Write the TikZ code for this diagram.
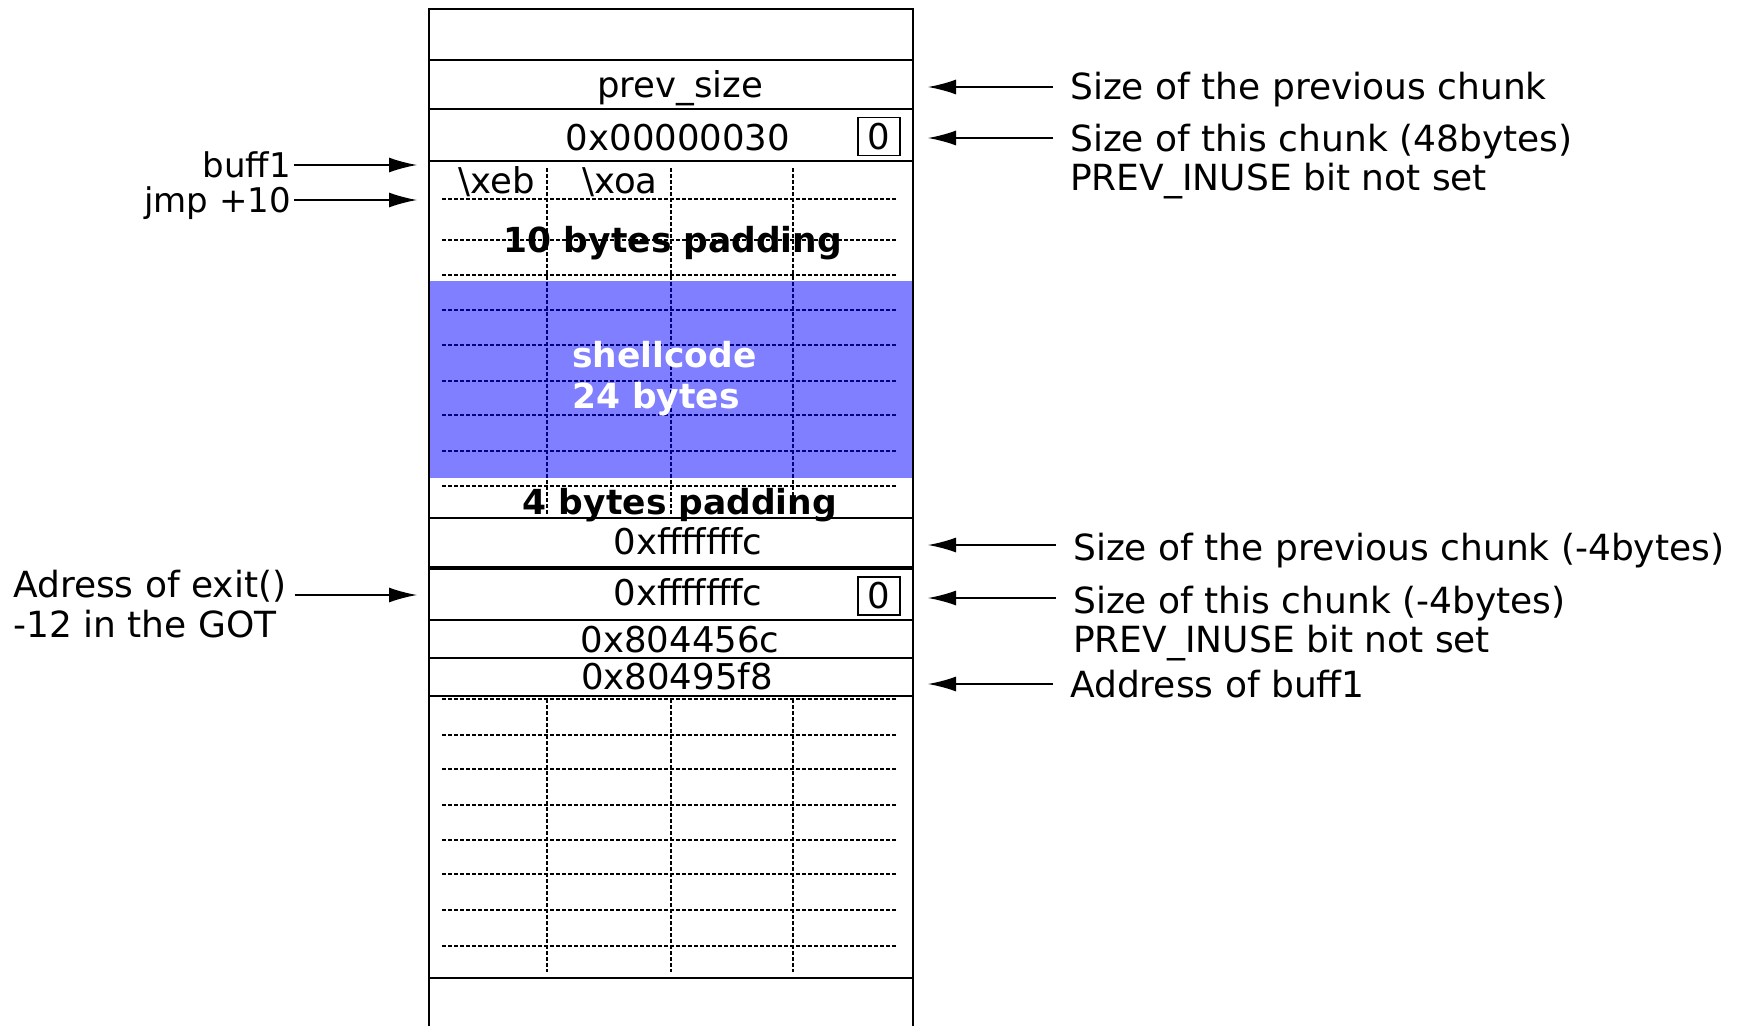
\documentclass[tikz,border=0pt]{standalone}
\usepackage{fontspec}
\setmainfont{DejaVu Sans}
\usetikzlibrary{arrows.meta}

\begin{document}
\begin{tikzpicture}[x=1pt,y=-1pt,
  rowline/.style={line width=2.4pt},
  border/.style={line width=2pt},
  gridline/.style={line width=1.1pt, dash pattern=on 4pt off 2pt},
  ptr/.style={line width=1.6pt, -{Latex[length=28pt,width=15pt]}},
  cell/.style={font=\fontsize{35.5}{42}\selectfont, inner sep=0pt, anchor=base},
  boldcell/.style={font=\fontsize{34.5}{42}\selectfont\bfseries, inner sep=0pt, anchor=base},
  note/.style={font=\fontsize{36}{42}\selectfont, inner sep=0pt, anchor=base west},
  label/.style={font=\fontsize{34}{42}\selectfont, inner sep=0pt},
  bitbox/.style={draw, line width=1.5pt, minimum width=42pt, minimum height=38pt,
                 inner sep=0pt, font=\fontsize{35.5}{42}\selectfont},
]
% canvas
\fill[white] (0,0) rectangle (1741,1026);
\useasboundingbox (0,0) rectangle (1741,1026);

% dashed byte grid of the user data area
\foreach \y in {199,240,275,310,345,381,415,451,486,699,735,769,805,840,874,910,946}
  \draw[gridline] (442,\y) -- (897,\y);
\foreach \x in {547,671,793} {
  \draw[gridline] (\x,168) -- (\x,515);
  \draw[gridline] (\x,699) -- (\x,972);
}

% shellcode area
\fill[blue, fill opacity=0.5] (429,281) rectangle (913,478);

% chunk outline and header fields
\draw[border] (429,1026) -- (429,9) -- (913,9) -- (913,1026);
\foreach \y in {60,109,161,518,620,658,696,978}
  \draw[rowline] (429,\y) -- (913,\y);
\draw[line width=3.4pt] (429,568) -- (913,568);

% field contents
\node[cell] (prevsize) at (680,97) {prev\_size};
\node[cell] (size1) at (678,150) {0x00000030};
\node[bitbox] (bit1) at (879,136.5) {0};
\node[cell] (xeb) at (497,193) {\textbackslash xeb};
\node[cell] (xoa) at (620,193) {\textbackslash xoa};
\node[boldcell] (pad10) at (673,252) {10 bytes padding};
\node[boldcell, anchor=base west, text=white] (shell) at (572,367) {shellcode};
\node[boldcell, anchor=base west, text=white] (shellsz) at (572,408) {24 bytes};
\node[boldcell] (pad4) at (680,514) {4 bytes padding};
\node[cell] (prev2) at (688,554) {0xfffffffc};
\node[cell] (size2) at (688,605) {0xfffffffc};
\node[bitbox] (bit2) at (879,596) {0};
\node[cell] (fd) at (680,652) {0x804456c};
\node[cell] (bk) at (677,689) {0x80495f8};

% left-hand pointers
\node[label, anchor=base east] (buff) at (291,177) {buff1};
\node[label, anchor=base east] (jmp) at (291,212) {jmp +10};
\node[label, anchor=base west, font=\fontsize{36}{42}\selectfont] (exitgot) at (13,597) {Adress of exit()};
\node[label, anchor=base west, font=\fontsize{36}{42}\selectfont] (gotoff) at (13,637) {-12 in the GOT};

\coordinate (tbuff) at (417,165);
\coordinate (tjmp) at (417,200);
\coordinate (texit) at (417,595);
\draw[ptr] ([xshift=3pt]buff.east |- tbuff) -- (tbuff);
\draw[ptr] ([xshift=3pt]jmp.east |- tjmp) -- (tjmp);
\draw[ptr] ([xshift=8pt]exitgot.east |- texit) -- (texit);

% right-hand notes
\node[note] (n1) at (1070,99) {Size of the previous chunk};
\node[note] (n2) at (1070,151) {Size of this chunk (48bytes)};
\node[note] (n2b) at (1070,190) {PREV\_INUSE bit not set};
\node[note] (n3) at (1073,560) {Size of the previous chunk (-4bytes)};
\node[note] (n4) at (1073,613) {Size of this chunk (-4bytes)};
\node[note] (n4b) at (1073,652) {PREV\_INUSE bit not set};
\node[note] (n5) at (1070,697) {Address of buff1};

\foreach \n/\y in {n1/87, n2/138, n3/545, n4/598, n5/684} {
  \coordinate (t\n) at (928,\y);
  \draw[ptr] ([xshift=-17pt]\n.west |- t\n) -- (t\n);
}
\end{tikzpicture}
\end{document}
